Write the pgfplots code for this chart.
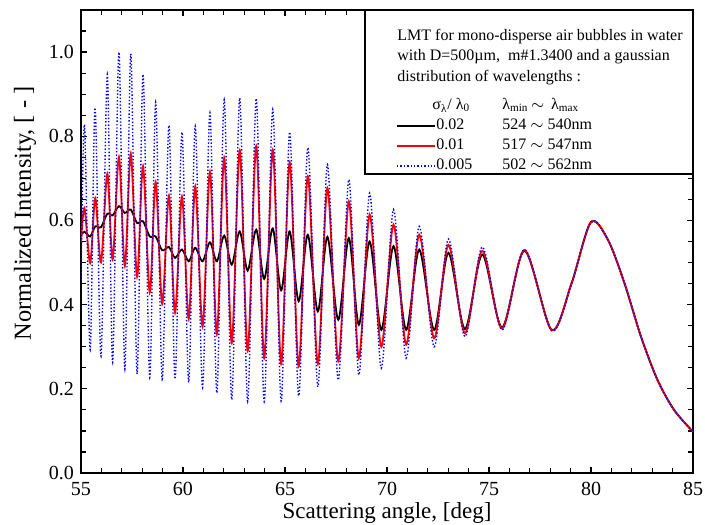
\documentclass[border=0pt]{standalone}
\usepackage{fontspec}
\setmainfont{Liberation Serif}
\usepackage{pgfplots}
\pgfplotsset{compat=1.18}
\begin{document}
\begin{tikzpicture}
\begin{axis}[
  scale only axis, width=306bp, height=231.5bp,
  xmin=55, xmax=85, ymin=0, ymax=1.1,
  xtick={55,60,65,70,75,80,85},
  minor xtick={56,57,58,59,61,62,63,64,66,67,68,69,71,72,73,74,76,77,78,79,81,82,83,84},
  ytick={0,0.2,0.4,0.6,0.8,1.0},
  minor ytick={0.05,0.1,0.15,0.25,0.3,0.35,0.45,0.5,0.55,0.65,0.7,0.75,0.85,0.9,0.95,1.05},
  tick align=inside,
  major tick length=3bp, minor tick length=2.5bp,
  axis line style={line width=0.7bp},
  every tick/.style={black, line width=0.6bp},
  ticklabel style={font=\fontsize{10bp}{12bp}\selectfont},
  yticklabel style={/pgf/number format/fixed, /pgf/number format/fixed zerofill, /pgf/number format/precision=1},
  xticklabel style={/pgf/number format/fixed, yshift=-1bp},
  /pgf/number format/assume math mode=true,
]
% sigma/lambda0 = 0.02
\addplot[black, line width=0.9bp, smooth] coordinates {
(55.0,0.566)(55.17,0.573)(55.45,0.562)(55.7,0.586)(55.98,0.584)(56.29,0.616)(56.55,0.612)(56.86,0.634)
(57.15,0.618)(57.44,0.626)(57.75,0.594)(58.04,0.598)(58.37,0.562)(58.66,0.562)(58.98,0.529)(59.31,0.537)
(59.61,0.511)(59.95,0.531)(60.28,0.503)(60.6,0.535)(60.96,0.503)(61.32,0.548)(61.66,0.503)(62.02,0.564)
(62.39,0.495)(62.78,0.574)(63.17,0.481)(63.59,0.578)(63.98,0.461)(64.40,0.581)(64.81,0.434)(65.23,0.574)
(65.67,0.408)(66.12,0.566)(66.61,0.384)(67.08,0.561)(67.61,0.364)(68.13,0.558)(68.62,0.352)(69.15,0.55)
(69.72,0.34)(70.32,0.539)(70.94,0.34)(71.58,0.531)(72.31,0.34)(73.01,0.523)(73.82,0.342)(74.67,0.519)
(75.64,0.346)(76.74,0.528)(78.07,0.340)(79.05,0.451)(79.99,0.595)(80.83,0.554)(81.64,0.451)(82.45,0.324)
(83.26,0.221)(84.07,0.15)(85,0.098)
};
% sigma/lambda0 = 0.01
\addplot[red, line width=0.9bp, smooth] coordinates {
(55.0,0.547)(55.17,0.63)(55.45,0.499)(55.7,0.653)(55.98,0.50)(56.29,0.711)(56.55,0.507)(56.86,0.751)
(57.15,0.492)(57.44,0.759)(57.75,0.466)(58.04,0.729)(58.37,0.429)(58.66,0.691)(58.98,0.402)(59.31,0.659)
(59.61,0.381)(59.95,0.657)(60.28,0.366)(60.6,0.681)(60.96,0.348)(61.32,0.715)(61.66,0.33)(62.02,0.749)
(62.39,0.309)(62.78,0.767)(63.17,0.29)(63.59,0.777)(63.98,0.273)(64.40,0.768)(64.81,0.259)(65.23,0.738)
(65.67,0.253)(66.12,0.705)(66.61,0.259)(67.08,0.677)(67.61,0.266)(68.13,0.645)(68.62,0.273)(69.15,0.614)
(69.72,0.30)(70.32,0.59)(70.94,0.305)(71.58,0.566)(72.31,0.32)(73.01,0.542)(73.82,0.332)(74.67,0.528)
(75.64,0.343)(76.74,0.53)(78.07,0.339)(79.05,0.451)(79.99,0.596)(80.83,0.554)(81.64,0.451)(82.45,0.324)
(83.26,0.221)(84.07,0.15)(85,0.098)
};
% sigma/lambda0 = 0.005
\addplot[blue, line width=0.7bp, densely dotted, smooth] coordinates {
(55.0,0.45)(55.17,0.828)(55.45,0.293)(55.69,0.868)(55.98,0.277)(56.29,0.947)(56.55,0.263)(56.86,1.0)
(57.15,0.247)(57.44,0.996)(57.75,0.235)(58.04,0.947)(58.37,0.227)(58.66,0.881)(58.98,0.223)(59.31,0.826)
(59.61,0.223)(59.95,0.81)(60.28,0.215)(60.6,0.824)(60.96,0.203)(61.32,0.856)(61.66,0.19)(62.02,0.887)
(62.39,0.174)(62.78,0.891)(63.17,0.17)(63.59,0.890)(63.98,0.17)(64.40,0.864)(64.81,0.171)(65.23,0.81)
(65.67,0.183)(66.12,0.773)(66.61,0.205)(67.08,0.733)(67.61,0.221)(68.13,0.697)(68.62,0.233)(69.15,0.665)
(69.72,0.249)(70.32,0.626)(70.94,0.273)(71.58,0.586)(72.31,0.30)(73.01,0.556)(73.82,0.324)(74.67,0.537)
(75.64,0.340)(76.74,0.531)(78.07,0.338)(79.05,0.451)(79.99,0.597)(80.83,0.554)(81.64,0.451)(82.45,0.324)
(83.26,0.221)(84.07,0.15)(85,0.098)
};
\end{axis}
% axis labels
\node[font=\fontsize{11.5bp}{13bp}\selectfont] at ([yshift=-20bp]current axis.south) {Scattering angle, [deg]};
\node[rotate=90, font=\fontsize{12.2bp}{14bp}\selectfont] at ([xshift=-28bp, yshift=14bp]current axis.west) {Normalized Intensity, [ - ]};
% legend
\coordinate (L) at ([xshift=-164bp]current axis.north east);
\draw[line width=0.7bp, fill=white] (L) rectangle ([yshift=-82bp]current axis.north east);
\begin{scope}[every node/.style={anchor=west, inner sep=0pt, font=\fontsize{8bp}{10bp}\selectfont}]
\node at ([shift={(16bp,-13.5bp)}]L) {\strut LMT for mono-disperse air bubbles in water};
\node at ([shift={(16bp,-23.5bp)}]L) {\strut with D=500µm,\ \ m\#1.3400 and a gaussian};
\node at ([shift={(16bp,-34bp)}]L) {\strut distribution of wavelengths :};
\node at ([shift={(33.5bp,-48bp)}]L) {\strut σ\textsubscript{λ}/ λ\textsubscript{0}};
\node at ([shift={(68.5bp,-48bp)}]L) {\strut λ\textsubscript{min}\,$\sim$\, λ\textsubscript{max}};
\node at ([shift={(35.5bp,-58bp)}]L) {\strut 0.02};
\node at ([shift={(35.5bp,-68bp)}]L) {\strut 0.01};
\node at ([shift={(35.5bp,-78bp)}]L) {\strut 0.005};
\node at ([shift={(68.5bp,-58bp)}]L) {\strut 524 $\sim$ 540nm};
\node at ([shift={(68.5bp,-68bp)}]L) {\strut 517 $\sim$ 547nm};
\node at ([shift={(68.5bp,-78bp)}]L) {\strut 502 $\sim$ 562nm};
\end{scope}
\draw[black, line width=0.9bp] ([shift={(16bp,-58bp)}]L) -- ([shift={(35bp,-58bp)}]L);
\draw[red, line width=0.9bp] ([shift={(16bp,-68bp)}]L) -- ([shift={(35bp,-68bp)}]L);
\draw[blue, line width=0.7bp, densely dotted] ([shift={(16bp,-78bp)}]L) -- ([shift={(35bp,-78bp)}]L);
% bounding box
\pgfresetboundingbox
\path ([shift={(-40.5bp,-26bp)}]current axis.south west) rectangle ([shift={(6bp,5bp)}]current axis.north east);
\end{tikzpicture}
\end{document}
